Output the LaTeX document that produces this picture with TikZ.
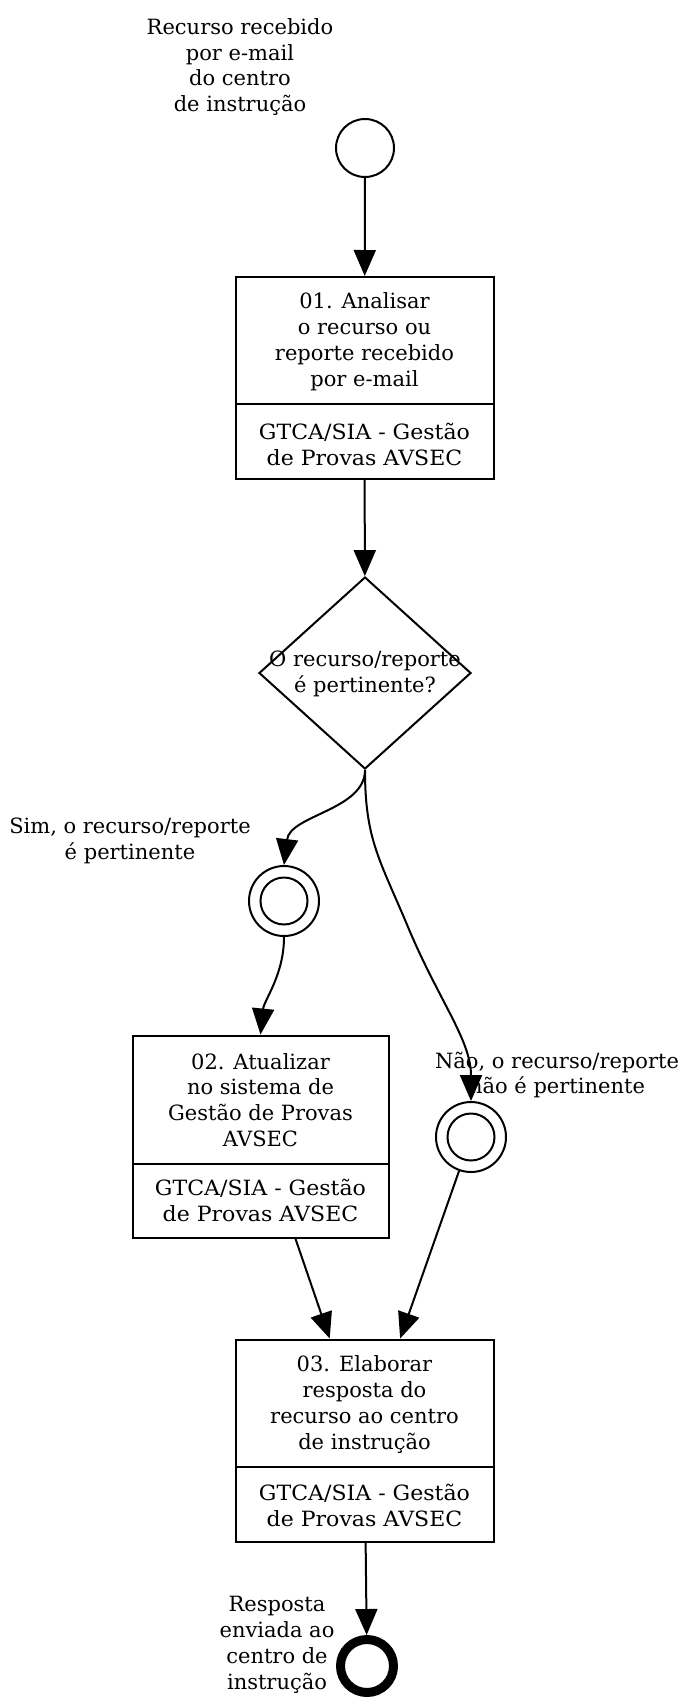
\documentclass[tikz,border=0pt]{standalone}
\usepackage{fontspec}
\setmainfont{DejaVu Serif}
\usetikzlibrary{arrows.meta,shapes.geometric,calc}
\begin{document}
\begin{tikzpicture}[x=1pt,y=-1pt,
  every node/.style={font=\fontsize{21}{25.8}\selectfont, align=center, inner sep=0pt},
  lanetxt/.style={transform shape, xscale=1.05},
  taskbox/.style={draw, line width=2pt, minimum width=258pt, minimum height=202pt},
  divider/.style={line width=2pt},
  ev/.style={circle, draw, line width=2pt, inner sep=0pt},
  flow/.style={line width=2pt, -{Triangle[length=26pt,width=22pt]}}]
\useasboundingbox (0,0) rectangle (681,1701);

% start event
\node[ev, minimum size=58pt] (start) at (365,148) {};
\node (startl) at (240,67) {Recurso recebido\\por e-mail\\do centro\\de instrução};

% task 01
\node[taskbox] (t1) at (364.5,378) {};
\draw[divider] ($(t1.north west)+(0,128)$) -- ($(t1.north east)+(0,128)$);
\node (t1a) at (364.5,341.5) {01. Analisar\\o recurso ou\\reporte recebido\\por e-mail};
\node[lanetxt] (t1b) at (364.5,444.5) {GTCA/SIA - Gestão\\de Provas AVSEC};

% gateway
\node[diamond, draw, line width=2pt, minimum width=212pt, minimum height=192pt, inner sep=0pt] (gw) at (365,673) {};
\node (gwt) at (365,673.5) {O recurso/reporte\\é pertinente?};

% sim event
\node[ev, minimum size=70pt] (sim) at (284,901) {};
\node[ev, minimum size=47pt] (simin) at (284,901) {};
\node (siml) at (130,840.5) {Sim, o recurso/reporte\\é pertinente};

% task 02
\node[taskbox, minimum width=256pt] (t2) at (260.5,1136.5) {};
\draw[divider] ($(t2.north west)+(0,129)$) -- ($(t2.north east)+(0,129)$);
\begin{scope}
\clip (132,1036) rectangle (389,1146);
\node (t2a) at (260.5,1100) {02. Atualizar\\no sistema de\\Gestão de Provas\\AVSEC};
\end{scope}
\node[lanetxt] (t2b) at (260.5,1200.5) {GTCA/SIA - Gestão\\de Provas AVSEC};

% nao event
\node[ev, minimum size=70pt] (nao) at (471,1137) {};
\node[ev, minimum size=47pt] (naoin) at (471,1137) {};
\node (naol) at (557,1075) {Não, o recurso/reporte\\não é pertinente};

% task 03
\node[taskbox] (t3) at (364.5,1440.5) {};
\draw[divider] ($(t3.north west)+(0,128)$) -- ($(t3.north east)+(0,128)$);
\node (t3a) at (364.5,1404.5) {03. Elaborar\\resposta do\\recurso ao centro\\de instrução};
\node[lanetxt] (t3b) at (364.5,1505.5) {GTCA/SIA - Gestão\\de Provas AVSEC};

% end event
\node[circle, draw, line width=9pt, minimum size=53pt, inner sep=0pt] (end) at (367,1666) {};
\node (endl) at (277,1645) {Resposta\\enviada ao\\centro de\\instrução};

% connectors
\coordinate (nmid) at (408,927);
\draw[flow] (start) -- (t1);
\draw[flow] (t1) -- (gw);
\draw[flow] (gw.south) .. controls (365,810) and (290,815) .. (sim.north);
\draw[flow] (gw.south) .. controls (365,840) and (380,860) .. (nmid) .. controls (439,1001) and (471,1040) .. (nao.north);
\draw[flow] (sim.south) .. controls (284,975) and (264,1000) .. (t2.north);
\draw[flow] (t2) -- (t3);
\draw[flow] (nao) -- (t3);
\draw[flow] (t3) -- (end);
\end{tikzpicture}
\end{document}
